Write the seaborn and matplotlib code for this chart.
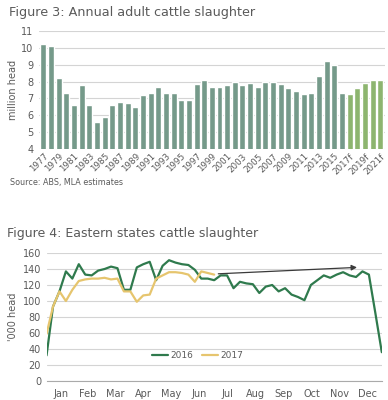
import numpy as np
import pandas as pd
import matplotlib
matplotlib.use('Agg')
import matplotlib.pyplot as plt
import seaborn as sns

# Figure 3 data - annual adult cattle slaughter (million head)
years = [str(y) for y in range(1977, 2017)] + ['2017f', '2018f', '2019f', '2020f', '2021f']
slaughter = [10.2, 10.1, 8.2, 7.3, 6.6, 7.8, 6.6, 5.6, 5.9, 6.6,
             6.8, 6.7, 6.5, 7.2, 7.35, 7.7, 7.35, 7.3, 6.9, 6.9,
             7.85, 8.1, 7.65, 7.7, 7.8, 7.95, 7.8, 7.9, 7.65, 8.0,
             8.0, 7.85, 7.6, 7.45, 7.25, 7.35, 8.35, 9.2, 9.0, 7.3,
             7.25, 7.6, 7.9, 8.1, 8.1]
kind = ['actual'] * 40 + ['forecast'] * 5

# Figure 4 data - weekly eastern states slaughter ('000 head)
weekly_2016 = [32, 93, 112, 137, 128, 146, 133, 132, 138, 140,
               143, 141, 114, 114, 142, 146, 149, 126, 144, 151,
               148, 146, 145, 139, 128, 128, 126, 132, 132, 116,
               124, 122, 121, 110, 118, 120, 112, 116, 108, 105,
               101, 120, 126, 132, 129, 133, 136, 132, 130, 137,
               133, 85, 36]
weekly_2017 = [59, 93, 112, 100, 114, 125, 127, 128, 128, 129,
               127, 128, 112, 112, 99, 107, 108, 128, 132, 136,
               136, 135, 133, 124, 137, 135, 133]
months = ['Jan', 'Feb', 'Mar', 'Apr', 'May', 'Jun',
          'Jul', 'Aug', 'Sep', 'Oct', 'Nov', 'Dec']
month_days = [31, 28, 31, 30, 31, 30, 31, 31, 30, 31, 30, 31]

sns.set_style('white')
plt.rcParams['font.family'] = ['DejaVu Sans']

text_col = '#5a5a5a'
grid_col = '#d4d4d4'

fig = plt.figure(figsize=(3.88, 4.0), dpi=100)

# ---- Figure 3 ----
fig.text(0.024, 0.968, 'Figure 3: Annual adult cattle slaughter', fontsize=9.2,
         color=text_col, va='center', ha='left')
ax1 = fig.add_axes([0.10, 0.6275, 0.892, 0.295])
df1 = pd.DataFrame({'year': years, 'value': slaughter, 'kind': kind})
sns.barplot(data=df1, x='year', y='value', hue='kind', dodge=False,
            palette={'actual': '#6fa08b', 'forecast': '#8cc163'},
            width=0.78, legend=False, ax=ax1, zorder=3)
ax1.set_ylim(4, 11)
ax1.set_xlim(-0.6, len(years) - 0.4)
ax1.set_yticks(range(4, 12))
ax1.yaxis.grid(True, color=grid_col, linewidth=0.8, zorder=0)
ax1.set_axisbelow(True)
ax1.set_xticks(range(0, len(years), 2))
ax1.set_xticklabels(years[::2], rotation=45, ha='right', rotation_mode='anchor')
ax1.tick_params(axis='x', labelsize=6.3, colors=text_col, length=0, pad=2)
ax1.tick_params(axis='y', labelsize=7, colors=text_col, length=0, pad=4)
ax1.set_xlabel('')
ax1.set_ylabel('million head', fontsize=7, color=text_col, labelpad=2)
for s in ax1.spines.values():
    s.set_visible(False)
fig.text(0.026, 0.543, 'Source: ABS, MLA estimates', fontsize=5.8,
         color=text_col, va='center', ha='left')

# ---- Figure 4 ----
fig.text(0.018, 0.415, 'Figure 4: Eastern states cattle slaughter', fontsize=9.0,
         color=text_col, va='center', ha='left')
ax2 = fig.add_axes([0.12, 0.0475, 0.864, 0.32])
df2 = pd.concat([
    pd.DataFrame({'day': np.arange(len(weekly_2016)) * 7.0 * 365 / 364,
                  'value': weekly_2016, 'year': '2016'}),
    pd.DataFrame({'day': np.arange(len(weekly_2017)) * 7.0 * 365 / 364,
                  'value': weekly_2017, 'year': '2017'}),
])
sns.lineplot(data=df2, x='day', y='value', hue='year',
             palette={'2016': '#2f7a4d', '2017': '#e6c56e'},
             linewidth=1.6, ax=ax2, zorder=3)
ax2.annotate('', xy=(338, 142), xytext=(187, 134),
             arrowprops=dict(arrowstyle='-|>', color='#3a3a3a', lw=0.9,
                             mutation_scale=8, shrinkA=0, shrinkB=0),
             zorder=4)
ax2.set_ylim(0, 160)
ax2.set_xlim(0, 365)
ax2.set_yticks(range(0, 161, 20))
ax2.yaxis.grid(True, color=grid_col, linewidth=0.8, zorder=0)
ax2.set_axisbelow(True)
bounds = np.concatenate([[0], np.cumsum(month_days)])
centers = (bounds[:-1] + bounds[1:]) / 2
ax2.set_xticks(bounds)
ax2.set_xticklabels([''] * len(bounds))
ax2.set_xticks(centers, minor=True)
ax2.set_xticklabels(months, minor=True)
ax2.tick_params(axis='x', which='major', length=4, color='#aaaaaa', width=0.8)
ax2.tick_params(axis='x', which='minor', length=0, labelsize=7,
                colors=text_col, pad=6)
ax2.tick_params(axis='y', labelsize=7, colors=text_col, length=0, pad=4)
ax2.set_xlabel('')
ax2.set_ylabel("'000 head", fontsize=7, color=text_col, labelpad=3)
for name, s in ax2.spines.items():
    s.set_visible(name == 'bottom')
ax2.spines['bottom'].set_color('#aaaaaa')
ax2.spines['bottom'].set_linewidth(0.8)
leg = ax2.legend(loc='center', bbox_to_anchor=(0.45, 0.2), ncol=2, frameon=False,
                 fontsize=6.5, handlelength=1.8, columnspacing=1.0,
                 handletextpad=0.2, labelcolor=text_col)

fig.savefig('out.png', dpi=100)
